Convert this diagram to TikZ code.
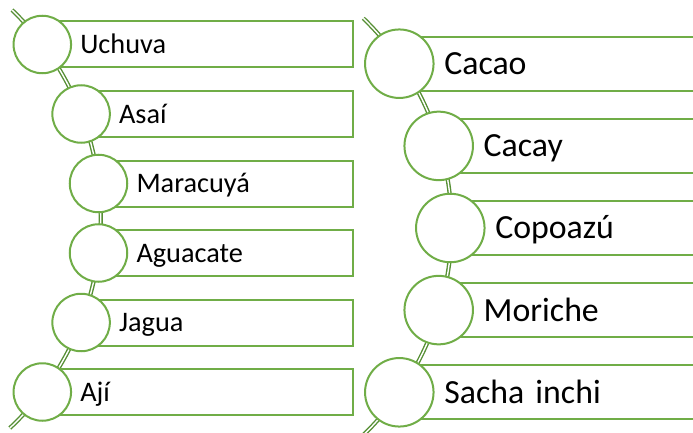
\documentclass[tikz,border=0pt]{standalone}
\usepackage{fontspec}
\setmainfont{Carlito}
\definecolor{ringgreen}{HTML}{70AD47}
\definecolor{railgreen}{HTML}{568F34}
\tikzset{
  rail/.style={draw=railgreen, line width=1.4pt, double=white, double distance=1.4pt},
  bead/.style={circle, draw=ringgreen, line width=2pt, fill=white, inner sep=0pt},
  sbead/.style={bead, minimum size=57.5pt},
  bbead/.style={bead, minimum size=68.5pt},
  boxbase/.style={rectangle, draw=ringgreen, line width=2pt, fill=white, anchor=west,
    inner ysep=0pt, align=left, text depth=0pt},
  lbox/.style={boxbase, minimum height=46pt, inner xsep=37pt, text height=18.2pt,
    font=\fontsize{28.3}{34}\selectfont},
  rbox/.style={boxbase, minimum height=54pt, inner xsep=44pt, text height=21.8pt,
    font=\fontsize{33.8}{40}\selectfont}
}
\begin{document}
\begin{tikzpicture}[x=1pt,y=-1pt]
\useasboundingbox (0,0) rectangle (693,433);
\clip (0,0) rectangle (693,433);
\coordinate (ltop) at (12,10);
\coordinate (rtop) at (363.3,18.3);
\draw[rail] (ltop) arc[start angle=-46.2, end angle=46.8, radius=288.2];
\draw[rail] (rtop) arc[start angle=-45.9, end angle=47.5, radius=290.2];
% left column
\foreach \x/\y/\t/\n in {42.3/44.5/Uchuva/1, 81.1/114/Asaí/2, 98.5/183.5/Maracuyá/3,
    98.5/253/Aguacate/4, 81.1/322.5/Jagua/5, 42.3/392/Ají/6}{
  \pgfmathsetmacro\w{351.5-\x}
  \pgfmathsetmacro\tw{\w-74}
  \node[lbox, minimum width=\w pt, text width=\tw pt] (lb\n) at (\x,\y) {\t};
  \node[sbead] (lc\n) at (\x,\y) {};
}
% right column
\foreach \x/\y/\t/\n in {399.3/63.7/Cacao/1, 438.7/145.9/Cacay/2, 450.3/228/Copoazú/3,
    438.7/310.1/Moriche/4, 399.3/392.3/Sacha inchi/5}{
  \pgfmathsetmacro\w{720-\x}
  \pgfmathsetmacro\tw{\w-88}
  \node[rbox, minimum width=\w pt, text width=\tw pt] (rb\n) at (\x,\y) {\t};
  \node[bbead] (rc\n) at (\x,\y) {};
}
\end{tikzpicture}
\end{document}
